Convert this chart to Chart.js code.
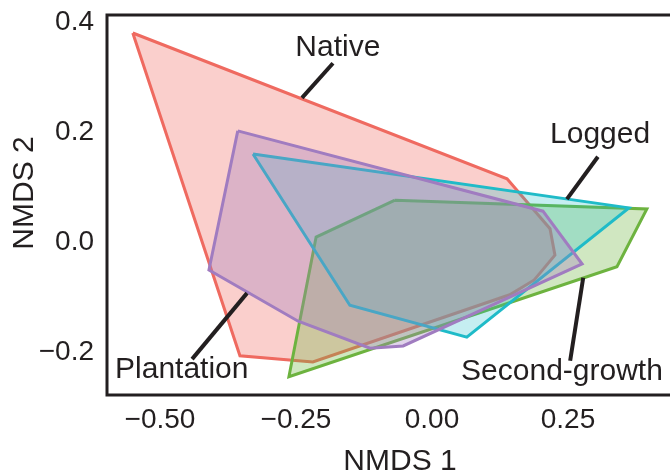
<!DOCTYPE html>
<html>
<head>
<meta charset="utf-8">
<script src="https://cdn.jsdelivr.net/npm/chart.js@4/dist/chart.umd.min.js"></script>
<style>
  html, body { margin: 0; padding: 0; background: #fff; overflow: hidden; }
  #wrap { width: 680px; height: 475px; }
</style>
</head>
<body>
<div id="wrap"><canvas id="chart" width="680" height="475"></canvas></div>
<script>
// hull vertices
var nativeX = [-0.550, 0.138, 0.217, 0.226, 0.188, 0.143, -0.219, -0.353]
var nativeY = [0.380, 0.115, 0.024, -0.024, -0.069, -0.096, -0.218, -0.207]

var plantationX = [-0.357, 0.204, 0.276, -0.053, -0.114, -0.246, -0.410]
var plantationY = [0.202, 0.056, -0.040, -0.189, -0.193, -0.144, -0.051]

var loggedX = [-0.329, 0.362, 0.064, -0.151]
var loggedY = [0.160, 0.062, -0.173, -0.115]

var secondX = [-0.068, 0.395, 0.340, -0.263, -0.213]
var secondY = [0.076, 0.060, -0.045, -0.245, 0.009]

var xTicks = [-0.50, -0.25, 0.00, 0.25]
var xTickLabels = ['\u22120.50', '\u22120.25', '0.00', '0.25']
var yTicks = [-0.2, 0.0, 0.2, 0.4]
var yTickLabels = ['\u22120.2', '0.0', '0.2', '0.4']

// label text and its leader line, in data units
var callouts = [
    { text: 'Native', tx: -0.173, ty: 0.353, x1: -0.182, y1: 0.325, x2: -0.239, y2: 0.262 },
    { text: 'Logged', tx: 0.309, ty: 0.195, x1: 0.305, y1: 0.155, x2: 0.248, y2: 0.078 },
    { text: 'Plantation', tx: -0.460, ty: -0.233, x1: -0.340, y1: -0.093, x2: -0.441, y2: -0.213 },
    { text: 'Second-growth', tx: 0.239, ty: -0.235, x1: 0.278, y1: -0.065, x2: 0.254, y2: -0.216 }
]

var ink = '#231F20'
var fontFamily = '"Liberation Sans", Arial, Helvetica, sans-serif'

function hull(xs, ys) {
    let pts = []
    for (let i = 0; i < xs.length; i++) {
        pts.push({ x: xs[i], y: ys[i] })
    }
    pts.push({ x: xs[0], y: ys[0] })
    return pts
}

function polygon(label, xs, ys, stroke, fillCol, order) {
    return {
        label: label,
        data: hull(xs, ys),
        showLine: true,
        fill: 'shape',
        borderColor: stroke,
        backgroundColor: fillCol,
        borderWidth: 3,
        borderJoinStyle: 'miter',
        pointRadius: 0,
        tension: 0,
        order: order
    }
}

function noPadding(s) {
    s.paddingTop = 0
    s.paddingBottom = 0
    s.paddingLeft = 0
    s.paddingRight = 0
}

const annotations = {
    id: 'annotations',
    afterDatasetsDraw(chart) {
        const ctx = chart.ctx
        const xs = chart.scales.x
        const ys = chart.scales.y
        const a = chart.chartArea
        ctx.save()
        // frame
        ctx.strokeStyle = ink
        ctx.lineWidth = 3
        ctx.strokeRect(a.left, a.top, a.right - a.left, a.bottom - a.top)

        // leader lines and group names
        ctx.lineWidth = 4
        ctx.lineCap = 'butt'
        ctx.fillStyle = ink
        ctx.font = '30px ' + fontFamily
        ctx.textAlign = 'center'
        ctx.textBaseline = 'middle'
        callouts.forEach(function (c) {
            ctx.beginPath()
            ctx.moveTo(xs.getPixelForValue(c.x1), ys.getPixelForValue(c.y1))
            ctx.lineTo(xs.getPixelForValue(c.x2), ys.getPixelForValue(c.y2))
            ctx.stroke()
            ctx.fillText(c.text, xs.getPixelForValue(c.tx), ys.getPixelForValue(c.ty))
        })

        // axis titles
        ctx.fillText('NMDS 1', 400, 462)
        ctx.translate(25, 193)
        ctx.rotate(-Math.PI / 2)
        ctx.fillText('NMDS 2', 0, 0)
        ctx.restore()
    }
}

function createChart() {
    var ctx = document.getElementById('chart').getContext('2d')
    window.chart = new Chart(ctx, {
        type: 'scatter',
        data: {
            datasets: [
                polygon('Plantation', plantationX, plantationY, '#A07CC0', 'rgba(160,124,192,0.33)', 1),
                polygon('Logged', loggedX, loggedY, '#1FBBC8', 'rgba(30,190,200,0.26)', 2),
                polygon('Second-growth', secondX, secondY, '#6DB33F', 'rgba(109,179,63,0.32)', 3),
                polygon('Native', nativeX, nativeY, '#EF6A60', 'rgba(240,106,96,0.32)', 4)
            ]
        },
        options: {
            responsive: false,
            animation: false,
            layout: { padding: { left: 0, top: 15, right: 3, bottom: 0 } },
            plugins: {
                legend: { display: false },
                tooltip: { enabled: false }
            },
            scales: {
                x: {
                    type: 'linear',
                    min: -0.5974,
                    max: 0.4504,
                    grid: { display: false, drawTicks: false },
                    border: { display: false },
                    afterFit: function (s) { s.height = 80; noPadding(s) },
                    afterBuildTicks: function (s) { s.ticks = xTicks.map(v => ({ value: v })) },
                    ticks: {
                        padding: 8,
                        color: ink,
                        font: { size: 28, family: fontFamily },
                        maxRotation: 0,
                        callback: function (v) { return xTickLabels[xTicks.indexOf(v)] }
                    }
                },
                y: {
                    type: 'linear',
                    min: -0.2782,
                    max: 0.4127,
                    grid: { display: false, drawTicks: false },
                    border: { display: false },
                    afterFit: function (s) { s.width = 107; noPadding(s) },
                    afterBuildTicks: function (s) { s.ticks = yTicks.map(v => ({ value: v })) },
                    ticks: {
                        padding: 13,
                        color: ink,
                        font: { size: 28, family: fontFamily },
                        callback: function (v) { return yTickLabels[yTicks.indexOf(v)] }
                    }
                }
            }
        },
        plugins: [annotations]
    })
}

createChart()
</script>
</body>
</html>
